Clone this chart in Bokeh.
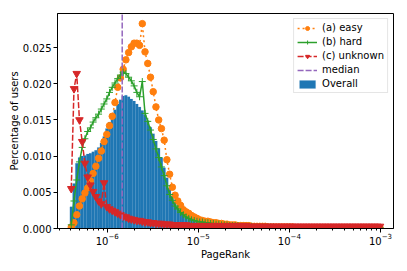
import numpy as np
from bokeh.plotting import figure
from bokeh.models import Range1d, FixedTicker, NumeralTickFormatter, Legend, LegendItem
from bokeh.embed import file_html
from bokeh.resources import INLINE

# ---- data (histogram heights on log-spaced PageRank bins) ----
overall = [0.0030, 0.0062, 0.0090, 0.0098, 0.0100, 0.0101, 0.0103, 0.0104, 0.0106, 0.0108,
           0.0112, 0.0118, 0.0127, 0.0138, 0.0147, 0.0156, 0.0164, 0.0172, 0.0178, 0.0183,
           0.0184, 0.0182, 0.0179, 0.0176, 0.0172, 0.0168, 0.0163, 0.0157, 0.0149, 0.0140,
           0.0131, 0.0121, 0.0111, 0.0098, 0.0084, 0.0070, 0.0056, 0.0045, 0.0037, 0.0030,
           0.0026, 0.0022, 0.0018, 0.0016, 0.0013, 0.0011, 0.0009, 0.0008, 0.0007, 0.0006,
           0.0006, 0.0005, 0.0005, 0.0004, 0.0004, 0.0004, 0.0003, 0.0003, 0.0003, 0.0002,
           0.0002, 0.0002, 0.0002, 0.00015, 0.00015, 0.00012, 0.0001, 0.0001, 0.0001, 0.00008,
           0.00008, 0.00007, 0.00007, 0.00006, 0.00006, 0.00006, 0.00005, 0.00005, 0.00005, 0.00004,
           0.00004, 0.00004, 0.00004, 0.00003, 0.00003, 0.00003, 0.00003, 0.00003, 0.00002, 0.00002,
           0.00002, 0.00002, 0.00002, 0.00002, 0.00002, 0.00002, 0.00002, 0.00002, 0.00002, 0.00002,
           0.00002, 0.00002, 0.00001, 0.00001, 0.00001, 0.00001, 0.00001, 0.00001, 0.00001, 0.00001,
           0.00001, 0.00001, 0.00001, 0.00001]

easy = [0.0002, 0.0008, 0.0019, 0.0031, 0.0041, 0.0049, 0.0056, 0.0066, 0.0076, 0.0086,
        0.0097, 0.0107, 0.0120, 0.0130, 0.0142, 0.0155, 0.0174, 0.0195, 0.0208, 0.0220,
        0.0233, 0.0243, 0.0251, 0.0256, 0.0256, 0.0253, 0.0283, 0.0244, 0.0228, 0.0209,
        0.0189, 0.0168, 0.0150, 0.0138, 0.0122, 0.0095, 0.0075, 0.0057, 0.0046, 0.0038,
        0.0032, 0.0026, 0.0023, 0.0021, 0.0018, 0.0016, 0.0014, 0.0012, 0.0011, 0.0010,
        0.0010, 0.0009, 0.0008, 0.0008, 0.0007, 0.0007, 0.0006, 0.0006, 0.0005, 0.0005,
        0.0005, 0.0004, 0.0004, 0.0004, 0.0004, 0.0004, 0.0003, 0.0003, 0.0003, 0.0003,
        0.0003, 0.0003, 0.0002, 0.0002, 0.0002, 0.0002, 0.0002, 0.0002, 0.0002, 0.0002,
        0.0002, 0.0002, 0.0001, 0.0001, 0.0001, 0.0001, 0.0001, 0.0001, 0.0001, 0.0001,
        0.0001, 0.0001, 0.0001, 0.0001, 0.0001, 0.0001, 0.0001, 0.0001, 0.0001, 0.0001,
        0.0001, 0.0001, 0.0001, 0.0001, 0.0001, 0.0001, 0.0001, 0.0001, 0.0001, 0.0001,
        0.0001, 0.0001, 0.0001, 0.0001]

hard = [0.0005, 0.0038, 0.0067, 0.0092, 0.0112, 0.0124, 0.0134, 0.0139, 0.0147, 0.0153,
        0.0158, 0.0165, 0.0172, 0.0179, 0.0188, 0.0195, 0.0201, 0.0207, 0.0212, 0.0216,
        0.0214, 0.0209, 0.0204, 0.0197, 0.0188, 0.0182, 0.0203, 0.0159, 0.0148, 0.0136,
        0.0123, 0.0110, 0.0098, 0.0085, 0.0073, 0.0059, 0.0047, 0.0039, 0.0031, 0.0027,
        0.0022, 0.0019, 0.0016, 0.0014, 0.0012, 0.0011, 0.0010, 0.0009, 0.0009, 0.0008,
        0.0008, 0.0007, 0.0007, 0.0006, 0.0006, 0.0005, 0.0005, 0.0005, 0.0004, 0.0004,
        0.0004, 0.0004, 0.0003, 0.0003, 0.0003, 0.0003, 0.0003, 0.0002, 0.0002, 0.0002,
        0.0002, 0.0002, 0.0002, 0.0002, 0.0002, 0.0001, 0.0001, 0.0001, 0.0001, 0.0001,
        0.0001, 0.0001, 0.0001, 0.0001, 0.0001, 0.0001, 0.0001, 0.0001, 0.0001, 0.0001,
        0.0001, 0.0001, 0.0001, 0.0001, 0.0001, 0.0001, 0.0001, 0.0001, 0.0001, 0.0001,
        0.0001, 0.0001, 0.0001, 0.0001, 0.0001, 0.0001, 0.0001, 0.0001, 0.0001, 0.0001,
        0.0001, 0.0001, 0.0001, 0.0001]

unknown = [0.0055, 0.0193, 0.0214, 0.0150, 0.0120, 0.0090, 0.0071, 0.0060, 0.0051, 0.0044,
           0.0038, 0.0034, 0.0063, 0.0030, 0.0027, 0.0025, 0.0023, 0.0021, 0.0019, 0.0017,
           0.0016, 0.0014, 0.0013, 0.0012, 0.0011, 0.0011, 0.0010, 0.0009, 0.0009, 0.0008,
           0.0008, 0.0007, 0.0007, 0.0007, 0.0006, 0.0006, 0.0006, 0.0005, 0.0005, 0.0005,
           0.0005, 0.0005, 0.0005, 0.0004, 0.0004, 0.0004, 0.0004, 0.0004, 0.0004, 0.0004,
           0.0004, 0.0004, 0.0004, 0.0004, 0.0004, 0.0004, 0.0004, 0.0004, 0.0004, 0.0004,
           0.0004, 0.0004, 0.0004, 0.0004, 0.0004, 0.0003, 0.0003, 0.0003, 0.0003, 0.0003,
           0.0003, 0.0003, 0.0003, 0.0003, 0.0003, 0.0003, 0.0003, 0.0003, 0.0003, 0.0003,
           0.0003, 0.0003, 0.0003, 0.0003, 0.0003, 0.0003, 0.0003, 0.0003, 0.0003, 0.0003,
           0.0003, 0.0003, 0.0003, 0.0003, 0.0003, 0.0003, 0.0003, 0.0003, 0.0003, 0.0003,
           0.0003, 0.0003, 0.0003, 0.0003, 0.0003, 0.0003, 0.0003, 0.0003, 0.0003, 0.0003,
           0.0003, 0.0003, 0.0003, 0.0003]

median_pagerank = 1.46e-6
y_tick_values = [0.0, 0.005, 0.010, 0.015, 0.020, 0.025]
x_tick_values = [1e-6, 1e-5, 1e-4, 1e-3]

# ---- bin geometry (log10 spacing) ----
BIN_START, BIN_STEP = -6.41, 0.03


def edges(n):
    return 10 ** (BIN_START + BIN_STEP * np.arange(n + 1))


def centers(n):
    return 10 ** (BIN_START + BIN_STEP * (np.arange(n) + 0.5))


FONT = "DejaVu Sans"
BLUE, ORANGE, GREEN, RED, PURPLE = "#1f77b4", "#ff7f0e", "#2ca02c", "#d62728", "#9467bd"

p = figure(width=407, height=271, x_axis_type="log",
           x_range=Range1d(10 ** -6.546, 10 ** -2.857),
           y_range=Range1d(0, 0.0297),
           output_backend="svg", toolbar_location=None,
           min_border_left=57, min_border_right=14, min_border_top=13, min_border_bottom=43)

p.grid.visible = False
p.outline_line_color = "black"
p.outline_line_width = 1
p.background_fill_color = "white"
p.border_fill_color = "white"

e = edges(len(overall))
bars = p.quad(left=e[:-1], right=e[1:], bottom=0, top=overall,
              fill_color=BLUE, line_color=BLUE, line_width=0.2, line_alpha=0.6)

xe = centers(len(easy))
easy_line = p.line(xe, easy, line_color=ORANGE, line_width=1.5, line_dash="2 3")
easy_pts = p.scatter(xe, easy, marker="circle", size=6.5, fill_color=ORANGE, line_color=ORANGE)

xh = centers(len(hard))
hard_line = p.line(xh, hard, line_color=GREEN, line_width=1.5)
hard_pts = p.scatter(xh, hard, marker="cross", size=7, line_color=GREEN, line_width=1)

xu = centers(len(unknown))
unk_line = p.line(xu, unknown, line_color=RED, line_width=1.5, line_dash="6 2")
unk_pts = p.scatter(xu, unknown, marker="inverted_triangle", size=7.5, fill_color=RED, line_color=RED)

med_line = p.line([median_pagerank, median_pagerank], [p.y_range.start, p.y_range.end],
                  line_color=PURPLE, line_width=1.5, line_dash="6 2")

# axes
xa = p.xaxis[0]
xa.ticker = FixedTicker(ticks=x_tick_values,
                        minor_ticks=[m * 10.0 ** k for k in range(-7, -2) for m in range(2, 10)])
ya = p.yaxis[0]
ya.ticker = FixedTicker(ticks=y_tick_values)
ya.formatter = NumeralTickFormatter(format="0.000")
for ax in (xa, ya):
    ax.axis_line_color = "black"
    ax.major_tick_line_color = "black"
    ax.minor_tick_line_color = "black"
    ax.major_tick_in = 0
    ax.major_tick_out = 4
    ax.minor_tick_in = 0
    ax.minor_tick_out = 2
    ax.major_label_text_font = FONT
    ax.major_label_text_font_size = "10px"
    ax.major_label_text_color = "black"
    ax.axis_label_text_font = FONT
    ax.axis_label_text_font_size = "10px"
    ax.axis_label_text_font_style = "normal"
    ax.axis_label_text_color = "black"
ya.minor_tick_line_color = None
xa.axis_label = "PageRank"
ya.axis_label = "Percentage of users"
xa.major_label_standoff = 0
ya.major_label_standoff = 2
xa.axis_label_standoff = 1
ya.axis_label_standoff = 0

legend = Legend(items=[
    LegendItem(label="(a) easy", renderers=[easy_line, easy_pts]),
    LegendItem(label="(b) hard", renderers=[hard_line, hard_pts]),
    LegendItem(label="(c) unknown", renderers=[unk_line, unk_pts]),
    LegendItem(label="median", renderers=[med_line]),
    LegendItem(label="Overall", renderers=[bars]),
], location="top_right")
legend.label_text_font = FONT
legend.label_text_font_size = "10px"
legend.label_text_color = "black"
legend.glyph_width = 20
legend.glyph_height = 10
legend.label_height = 10
legend.spacing = 3
legend.padding = 3
legend.margin = 5
legend.label_standoff = 5
legend.border_line_color = "#cccccc"
legend.border_line_width = 1
legend.background_fill_alpha = 0.8
p.add_layout(legend)

open("out.html", "w").write(file_html(p, INLINE))
